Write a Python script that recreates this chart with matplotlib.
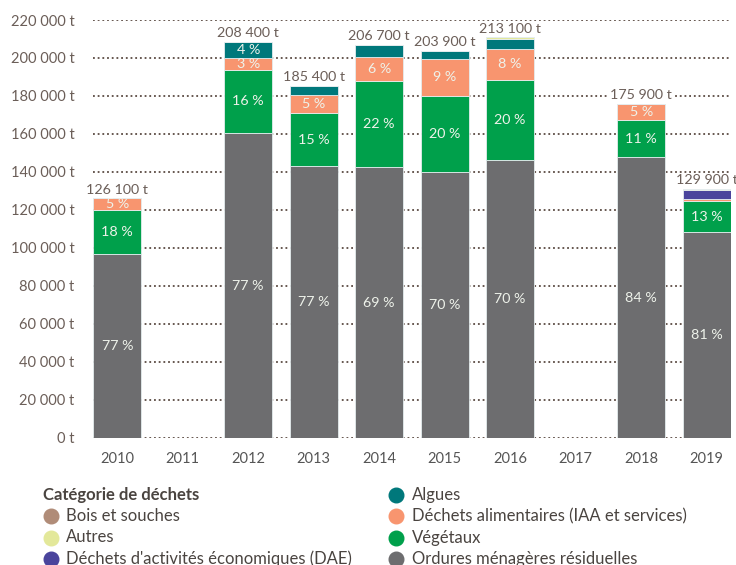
import matplotlib
matplotlib.use('Agg')
import matplotlib.pyplot as plt

plt.rcParams['font.family'] = ['Lato', 'DejaVu Sans']

years = ['2010', '2011', '2012', '2013', '2014', '2015', '2016', '2017', '2018', '2019']

# tonnages par catégorie (t)
omr = [97100, 0, 160500, 143000, 142600, 140000, 146500, 0, 147800, 108300]
vegetaux = [22700, 0, 33300, 28000, 45500, 40000, 42100, 0, 19500, 16400]
dechets_alim = [6300, 0, 6300, 9500, 12400, 19600, 16100, 0, 8600, 1000]
algues = [0, 0, 8300, 4900, 6200, 4300, 5300, 0, 0, 0]
dae = [0, 0, 0, 0, 0, 0, 0, 0, 0, 4800]
autres = [0, 0, 0, 0, 0, 0, 800, 0, 0, 600]
bois = [0, 0, 0, 0, 0, 0, 0, 0, 0, 0]

totals = ['126 100 t', '', '208 400 t', '185 400 t', '206 700 t', '203 900 t',
          '213 100 t', '', '175 900 t', '129 900 t']
pct_omr = ['77 %', '', '77 %', '77 %', '69 %', '70 %', '70 %', '', '84 %', '81 %']
pct_veg = ['18 %', '', '16 %', '15 %', '22 %', '20 %', '20 %', '', '11 %', '13 %']
pct_alim = ['5 %', '', '3 %', '5 %', '6 %', '9 %', '8 %', '', '5 %', '']
pct_alg = ['', '', '4 %', '', '', '', '', '', '', '']

yticks = [0, 20000, 40000, 60000, 80000, 100000, 120000, 140000, 160000, 180000, 200000, 220000]

colors = {
    'Bois et souches': '#b08c78',
    'Autres': '#e3e89a',
    "Déchets d'activités économiques (DAE)": '#4a449c',
    'Algues': '#00787b',
    'Déchets alimentaires (IAA et services)': '#f8956f',
    'Végétaux': '#00a04b',
    'Ordures ménagères résiduelles': '#6d6d6f',
}

stack = [
    ('Ordures ménagères résiduelles', omr, pct_omr),
    ('Végétaux', vegetaux, pct_veg),
    ('Déchets alimentaires (IAA et services)', dechets_alim, pct_alim),
    ('Algues', algues, pct_alg),
    ("Déchets d'activités économiques (DAE)", dae, None),
    ('Autres', autres, None),
    ('Bois et souches', bois, None),
]

W, H = 736, 565
fig = plt.figure(figsize=(W / 100, H / 100), dpi=100)
ax = fig.add_axes([0.1264, 0.2248, 0.8666, 0.7398])

x = list(range(len(years)))
bottom = [0] * len(years)
for name, vals, labels in stack:
    ax.bar(x, vals, width=0.73, bottom=bottom, color=colors[name],
           edgecolor='#e4ecee', linewidth=0.6, zorder=3)
    if labels is not None:
        for i, lab in enumerate(labels):
            if lab:
                ax.text(i, bottom[i] + vals[i] / 2, lab, ha='center', va='center',
                        color='#eef2ea', fontsize=10.3, zorder=4)
    bottom = [b + v for b, v in zip(bottom, vals)]

for i, lab in enumerate(totals):
    if lab:
        ax.text(i, bottom[i] + 1500, lab, ha='center', va='bottom',
                color='#6b5e58', fontsize=10.3, zorder=4,
                bbox=dict(facecolor='white', edgecolor='none', pad=1))

ax.set_xlim(-0.37, 9.37)
ax.set_ylim(0, 220000)
ax.set_yticks(yticks)
ax.set_yticklabels([f"{v:,}".replace(',', ' ') + ' t' for v in yticks])
ax.set_xticks(x)
ax.set_xticklabels(years)
ax.tick_params(axis='both', length=0, labelsize=10.5)
ax.tick_params(axis='y', pad=13.5, labelcolor='#6b5e58')
ax.tick_params(axis='x', pad=10, labelcolor='#555555')

for v in yticks:
    ax.axhline(v, color='#5a4a42', linestyle=(0, (1, 1.6)), linewidth=1.3, zorder=1)

for s in ax.spines.values():
    s.set_visible(False)

# légende dessinée à la main (deux colonnes, titre dans la première)
legend_left = ['Bois et souches', 'Autres', "Déchets d'activités économiques (DAE)"]
legend_right = ['Algues', 'Déchets alimentaires (IAA et services)', 'Végétaux',
                'Ordures ménagères résiduelles']
rows_y = [494.7, 516, 537.5, 559]


def fx(px):
    return px / W


def fy(py):
    return 1 - py / H


fig.text(fx(43), fy(rows_y[0]), 'Catégorie de déchets', fontsize=12, fontweight='bold',
         color='#4a4440', ha='left', va='center')
for col_x, names, start in [(50.5, legend_left, 1), (396, legend_right, 0)]:
    for k, name in enumerate(names):
        yy = rows_y[start + k]
        fig.lines.append(plt.Line2D([fx(col_x)], [fy(yy)], marker='o', markersize=10.5,
                                    color=colors[name], linestyle='none',
                                    transform=fig.transFigure, figure=fig))
        fig.text(fx(col_x + 15.5), fy(yy), name, fontsize=12, color='#4a4440',
                 ha='left', va='center')

fig.savefig('out.png', dpi=100)
